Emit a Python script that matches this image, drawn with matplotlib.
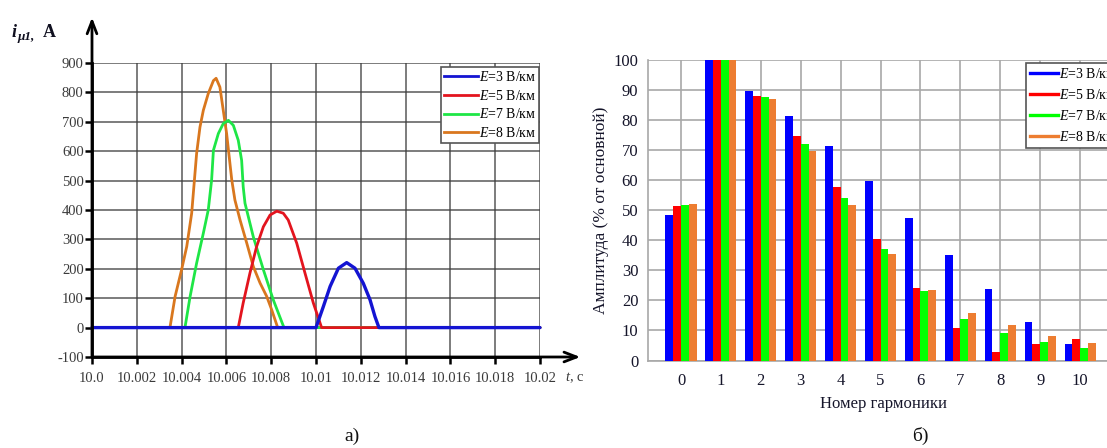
import matplotlib
matplotlib.use("Agg")
import matplotlib.pyplot as plt
import numpy as np
from matplotlib.lines import Line2D

plt.rcParams['font.family'] = ['Liberation Serif', 'DejaVu Serif']
plt.rcParams['mathtext.fontset'] = 'custom'
plt.rcParams['mathtext.rm'] = 'Liberation Serif'
plt.rcParams['mathtext.it'] = 'Liberation Serif:italic'
plt.rcParams['mathtext.bf'] = 'Liberation Serif:bold'

# ---------------- data: left chart (magnetizing current pulses) ----------------
t_e3 = [10.0, 10.01000, 10.01033, 10.01063, 10.01100, 10.01137, 10.01174, 10.01211, 10.01241, 10.01263, 10.01281, 10.02]
i_e3 = [0, 0, 72, 140, 202, 221, 202, 151, 95, 38, 0, 0]

t_e5 = [10.0, 10.00653, 10.00675, 10.00705, 10.00735, 10.00765, 10.00795, 10.00825, 10.00854, 10.00876, 10.00914, 10.00951, 10.00988, 10.01025, 10.02]
i_e5 = [0, 0, 84, 185, 276, 343, 383, 396, 389, 366, 287, 185, 84, 0, 0]

t_e7 = [10.0, 10.00415, 10.00438, 10.00467, 10.00497, 10.00519, 10.00534, 10.00542, 10.00564, 10.00586, 10.00609, 10.00631, 10.00653, 10.00668, 10.00675, 10.00683, 10.00720, 10.00765, 10.00809, 10.00857, 10.02]
i_e7 = [0, 0, 106, 219, 321, 400, 502, 603, 660, 694, 705, 688, 637, 569, 479, 423, 309, 197, 95, 0, 0]

t_e8 = [10.0, 10.00348, 10.00371, 10.00400, 10.00423, 10.00445, 10.00467, 10.00482, 10.00497, 10.00519, 10.00542, 10.00554, 10.00571, 10.00586, 10.00601, 10.00624, 10.00638, 10.00661, 10.00691, 10.00720, 10.00750, 10.00780, 10.00802, 10.00829, 10.02]
i_e8 = [0, 0, 106, 197, 276, 389, 592, 682, 739, 796, 840, 848, 818, 739, 660, 502, 434, 366, 287, 208, 152, 106, 61, 0, 0]

x_ticks_left = [10.0, 10.002, 10.004, 10.006, 10.008, 10.01, 10.012, 10.014, 10.016, 10.018, 10.02]
x_ticklabels_left = ["10.0", "10.002", "10.004", "10.006", "10.008", "10.01", "10.012", "10.014", "10.016", "10.018", "10.02"]
y_ticks_left = [-100, 0, 100, 200, 300, 400, 500, 600, 700, 800, 900]

series_labels = ["$E$=3 В/км", "$E$=5 В/км", "$E$=7 В/км", "$E$=8 В/км"]

# ---------------- data: right chart (harmonic amplitudes) ----------------
harmonics = [0, 1, 2, 3, 4, 5, 6, 7, 8, 9, 10]
amp_e3 = [48.4, 100, 89.6, 81.5, 71.4, 59.7, 47.3, 35.1, 23.7, 12.7, 5.5]
amp_e5 = [51.4, 100, 88.1, 74.6, 57.8, 40.4, 24.2, 10.9, 2.7, 5.5, 7.1]
amp_e7 = [51.8, 100, 87.8, 71.9, 54.0, 37.0, 23.1, 13.8, 9.0, 6.1, 4.1]
amp_e8 = [52.0, 100, 86.9, 69.8, 51.7, 35.4, 23.5, 15.7, 11.8, 8.2, 5.7]

W, H = 1107, 448
fig = plt.figure(figsize=(W / 100, H / 100), dpi=100)

def fx(px):
    return px / W

def fy(py):
    return 1 - py / H

line_cols = ["#1414d2", "#e3141e", "#1ee646", "#d9771e"]
bar_cols = ["#0000ff", "#ff0000", "#00ff00", "#ed7d31"]

# ================= left chart =================
axL = fig.add_axes([fx(92), fy(357), fx(540) - fx(92), fy(63) - fy(357)])
axL.set_xlim(10.0, 10.02)
axL.set_ylim(-100, 900)
axL.set_xticks(x_ticks_left)
axL.set_xticklabels(x_ticklabels_left)
axL.set_yticks(y_ticks_left)
axL.set_yticklabels([str(v) for v in y_ticks_left])
axL.grid(True, color="#3c3c3c", linewidth=1.1, alpha=0.85)
axL.set_axisbelow(True)
for s in ["top", "right"]:
    axL.spines[s].set_visible(False)
for s in ["left", "bottom"]:
    axL.spines[s].set_linewidth(2.0)
    axL.spines[s].set_color("black")
axL.tick_params(axis="both", colors="black", width=1.8, length=5, labelsize=10.5,
                labelcolor="#3a3a3a")
axL.tick_params(axis="x", pad=6)
axL.tick_params(axis="y", pad=1)

lw = 2.0
axL.plot(t_e8, i_e8, color=line_cols[3], lw=lw, solid_capstyle="round", clip_on=False)
axL.plot(t_e7, i_e7, color=line_cols[2], lw=lw, solid_capstyle="round", clip_on=False)
axL.plot(t_e5, i_e5, color=line_cols[1], lw=lw, solid_capstyle="round", clip_on=False)
axL.plot(t_e3, i_e3, color=line_cols[0], lw=2.4, solid_capstyle="round", clip_on=False)

# axis arrows
axL.annotate("", xy=(0, 1.155), xytext=(0, 0), xycoords="axes fraction",
             arrowprops=dict(arrowstyle="->,head_length=0.9,head_width=0.35", lw=2.0, color="black",
                             shrinkA=0, shrinkB=0), annotation_clip=False)
axL.annotate("", xy=(1.09, 0), xytext=(0, 0), xycoords="axes fraction",
             arrowprops=dict(arrowstyle="->,head_length=0.9,head_width=0.35", lw=2.0, color="black",
                             shrinkA=0, shrinkB=0), annotation_clip=False)

handles = [Line2D([], [], color=c, lw=2.0) for c in line_cols]
legL = axL.legend(handles, series_labels, loc="upper right",
                  bbox_to_anchor=(fx(539), fy(67)), bbox_transform=fig.transFigure,
                  fontsize=10, frameon=True, fancybox=False, edgecolor="#555555",
                  framealpha=1, borderpad=0.2, handlelength=2.4, handletextpad=0.1,
                  labelspacing=0.35, borderaxespad=0)
legL.get_frame().set_linewidth(1.2)

# axis labels left
fig.text(fx(12), fy(37), "i", fontsize=13, fontweight="bold", fontstyle="italic", color="#101020")
fig.text(fx(18), fy(40), "μ1,", fontsize=9.5, fontweight="bold", fontstyle="italic", color="#101020")
fig.text(fx(43), fy(37), "A", fontsize=13, fontweight="bold", color="#101020")
fig.text(fx(565), fy(378), "$t$, c", fontsize=10.5, color="#3a3a3a", va="center", ha="left")

# ================= right chart =================
x0, x1 = -0.827, 11.0
axR = fig.add_axes([fx(648), fy(360.5), fx(1120) - fx(648), fy(60) - fy(360.5)])
axR.set_xlim(x0, x1)
axR.set_ylim(0, 100)
bw = 0.195
xs = np.array(harmonics, dtype=float)
for k, (vals, c) in enumerate(zip([amp_e3, amp_e5, amp_e7, amp_e8], bar_cols)):
    axR.bar(xs + (k - 1.5) * bw, vals, width=bw, color=c, edgecolor="none", zorder=3)
axR.set_yticks(range(0, 101, 10))
axR.set_xticks(list(range(0, 12)))
axR.set_xticklabels([str(h) for h in harmonics] + [""])
axR.grid(True, color="#a8a8a8", linewidth=1.2, zorder=0)
axR.set_axisbelow(True)
for s in ["top", "right"]:
    axR.spines[s].set_visible(False)
for s in ["left", "bottom"]:
    axR.spines[s].set_color("#a8a8a8")
    axR.spines[s].set_linewidth(1.2)
axR.tick_params(axis="both", length=0, labelsize=12, labelcolor="#15152a")
axR.tick_params(axis="x", pad=9)
axR.tick_params(axis="y", pad=7)
axR.set_xlabel("Номер гармоники", fontsize=12, color="#15152a", labelpad=5)
axR.set_ylabel("Амплитуда (% от основной)", fontsize=12.5, color="#15152a", labelpad=3)

handlesR = [Line2D([], [], color=c, lw=2.4) for c in bar_cols]
legR = axR.legend(handlesR, series_labels, loc="upper left",
                  bbox_to_anchor=(fx(1026), fy(63)), bbox_transform=fig.transFigure,
                  fontsize=10, frameon=True, fancybox=False, edgecolor="#555555",
                  framealpha=1, borderpad=0.3, handlelength=2.0, handletextpad=0.1,
                  labelspacing=0.5, borderaxespad=0)
legR.get_frame().set_linewidth(1.2)

# captions
fig.text(fx(352), fy(436), "а)", fontsize=14, ha="center", va="center", color="#111111")
fig.text(fx(920), fy(436), "б)", fontsize=14, ha="center", va="center", color="#111111")

fig.savefig("out.png", dpi=100)
